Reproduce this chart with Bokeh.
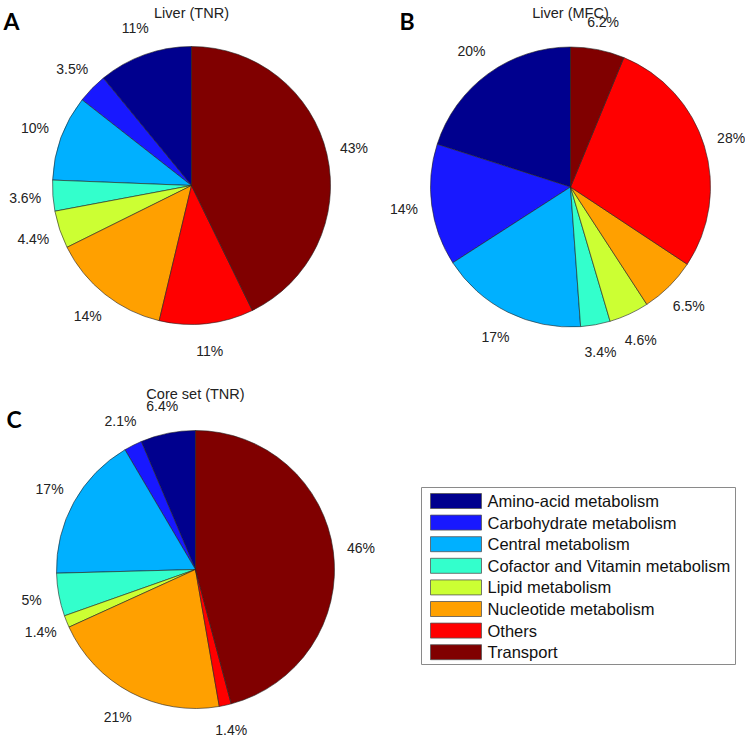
import numpy as np
from bokeh.plotting import figure
from bokeh.models import Range1d, ColumnDataSource
from bokeh.core.properties import value
from bokeh.embed import file_html
from bokeh.resources import INLINE

# ---------------- data ----------------
categories = ["Amino-acid metabolism", "Carbohydrate metabolism", "Central metabolism",
              "Cofactor and Vitamin metabolism", "Lipid metabolism", "Nucleotide metabolism",
              "Others", "Transport"]
colors = ["#00008E", "#1818FF", "#00B0FF", "#33FFCC", "#CCFF33", "#FFA000", "#FF0000", "#800000"]

liver_tnr = [11, 3.5, 10, 3.6, 4.4, 14, 11, 43]
liver_mfc = [20, 14, 17, 3.4, 4.6, 6.5, 28, 6.2]
core_tnr = [6.4, 2.1, 17, 5, 1.4, 21, 1.4, 46]

titles = ["Liver (TNR)", "Liver (MFC)", "Core set (TNR)"]
panel_letters = ["A", "B", "C"]

# ---------------- layout (image pixel coordinates) ----------------
W, H = 745, 738


def Y(yimg):
    return H - yimg


p = figure(width=W, height=H, output_backend="svg", toolbar_location=None,
           x_range=Range1d(0, W), y_range=Range1d(0, H), min_border=0)
p.axis.visible = False
p.grid.visible = False
p.outline_line_color = None
p.background_fill_color = "white"

pies = [
    dict(vals=liver_tnr, cx=191, cy=185, r=139, title_y=12.5, letter=(3, 20)),
    dict(vals=liver_mfc, cx=570, cy=186.5, r=140, title_y=12.5, letter=(399, 20)),
    dict(vals=core_tnr, cx=195, cy=569, r=139, title_y=393.5, letter=(6, 418)),
]

FONT = value("Liberation Sans")

for i, pc in enumerate(pies):
    v = np.array(pc["vals"], dtype=float)
    frac = v / v.sum()
    cum = np.concatenate([[0], np.cumsum(frac)])
    start = np.pi / 2 + 2 * np.pi * cum[:-1]
    end = np.pi / 2 + 2 * np.pi * cum[1:]
    mid = (start + end) / 2
    src = ColumnDataSource(dict(start=start, end=end, color=colors))
    p.wedge(x=pc["cx"], y=Y(pc["cy"]), radius=pc["r"], start_angle="start", end_angle="end",
            fill_color="color", line_color="#222222", line_width=0.6, source=src)
    lx = pc["cx"] + 1.2 * pc["r"] * np.cos(mid)
    ly = Y(pc["cy"]) + 1.2 * pc["r"] * np.sin(mid)
    ly = np.maximum(ly, 9)  # keep labels inside the canvas
    labels = [f"{x:g}%" for x in pc["vals"]]
    p.text(x=lx, y=ly, text=labels, text_align="center", text_baseline="middle",
           text_font=FONT, text_font_size="14px", text_color="#222222")
    p.text(x=[pc["cx"]], y=[Y(pc["title_y"])], text=[titles[i]], text_align="center",
           text_baseline="alphabetic", text_font=FONT, text_font_size="14.5px", text_color="#222222")
    lxp, lyp = pc["letter"]
    p.text(x=[lxp], y=[Y(lyp)], text=[panel_letters[i]], text_align="left",
           text_baseline="middle", text_font=value("Lato"), text_font_style="bold",
           text_font_size="23px", text_color="black")

# ---------------- legend ----------------
box_l, box_t, box_r, box_b = 421, 487, 735, 664
p.quad(left=[box_l], right=[box_r], top=[Y(box_t)], bottom=[Y(box_b)],
       fill_color="white", line_color="#8a8a8a", line_width=1)
row0, step = 500.5, 21.6
rows = np.arange(len(categories))
sy = [Y(row0 + step * k) for k in rows]
p.rect(x=[455.5] * len(categories), y=sy, width=51, height=15, fill_color=colors,
       line_color="#555555", line_width=0.8)
p.text(x=[487] * len(categories), y=sy, text=categories, text_align="left",
       text_baseline="middle", text_font=FONT, text_font_size="16.5px", text_color="#111111")

open("out.html", "w").write(file_html(p, INLINE))
